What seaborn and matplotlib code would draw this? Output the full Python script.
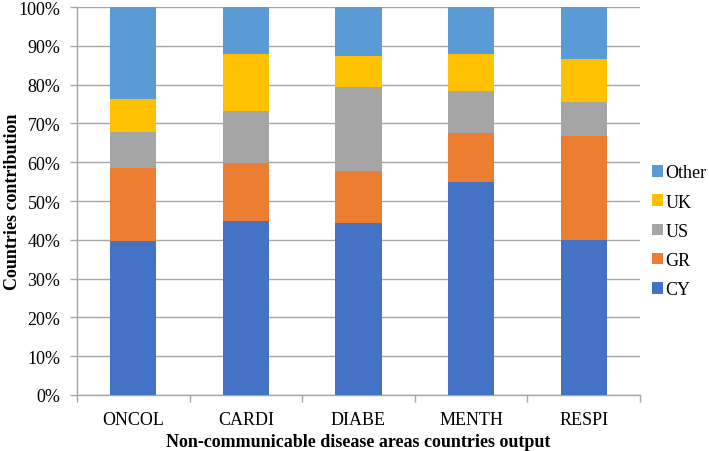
import numpy as np
import pandas as pd
import seaborn as sns
import matplotlib.pyplot as plt
import matplotlib.ticker as ticker

categories = ["ONCOL", "CARDI", "DIABE", "MENTH", "RESPI"]
series = ["CY", "GR", "US", "UK", "Other"]
cy = [39.6, 44.8, 44.3, 55.0, 39.9]
gr = [18.8, 14.9, 13.5, 12.6, 26.9]
us = [9.5, 13.4, 21.5, 10.9, 8.8]
uk = [8.5, 14.8, 8.1, 9.5, 11.1]
other = [23.6, 12.1, 12.6, 12.0, 13.3]

colors = {
    "CY": "#4472C4",
    "GR": "#ED7D31",
    "US": "#A5A5A5",
    "UK": "#FFC000",
    "Other": "#5B9BD5",
}

sns.set_theme(style="white")
plt.rcParams.update(
    {
        "font.family": ["Liberation Serif", "DejaVu Serif"],
        "text.color": "black",
        "axes.labelcolor": "black",
        "xtick.color": "black",
        "ytick.color": "black",
    }
)
fs = 13

df = pd.DataFrame({"cat": categories, "CY": cy, "GR": gr, "US": us, "UK": uk, "Other": other})
df = df.set_index("cat")
cum = df[series].cumsum(axis=1)
cum = cum.div(cum["Other"], axis=0) * 100  # normalise to 100%

fig = plt.figure(figsize=(7.09, 4.52), dpi=100)
ax = fig.add_axes([0.1086, 0.124, 0.794, 0.858])

# draw cumulative totals, tallest first, so each layer overlays the one before
for s in reversed(series):
    sns.barplot(
        x=cum.index,
        y=cum[s].values,
        color=colors[s],
        width=0.41,
        linewidth=0,
        saturation=1,
        label=s,
        ax=ax,
        zorder=3,
    )

ax.set_ylim(0, 100)
ax.set_xlim(-0.5, len(categories) - 0.5)
ax.yaxis.set_major_locator(ticker.MultipleLocator(10))
ax.yaxis.set_major_formatter(ticker.FuncFormatter(lambda v, p: f"{v:.0f}%"))
ax.grid(axis="y", color="#A6A6A6", linewidth=1, zorder=0)

ax.set_xticks(np.arange(len(categories)))
ax.set_xticklabels(categories)
ax.set_xticks(np.arange(-0.5, len(categories)), minor=True)
ax.tick_params(axis="x", which="major", length=0, labelsize=fs, pad=11.5)
ax.tick_params(axis="x", which="minor", length=5, width=1, color="#A6A6A6", direction="out", bottom=True)
ax.tick_params(axis="y", which="major", length=5, width=1, color="#A6A6A6", direction="out", labelsize=fs, left=True, pad=7)

for side in ["top", "right"]:
    ax.spines[side].set_visible(False)
for side in ["left", "bottom"]:
    ax.spines[side].set_color("#A6A6A6")
    ax.spines[side].set_linewidth(1)

ax.set_xlabel("Non-communicable disease areas countries output", fontsize=fs, fontweight="bold", labelpad=4)
ax.set_ylabel("Countries contribution", fontsize=fs, fontweight="bold")
ax.yaxis.set_label_coords(-0.099, 0.5)

leg = ax.legend(
    loc="center left",
    bbox_to_anchor=(1.0215, 0.422),
    frameon=False,
    fontsize=fs,
    handlelength=0.6,
    handleheight=0.6,
    handletextpad=0.15,
    labelspacing=0.68,
    borderaxespad=0,
    borderpad=0,
)

fig.savefig("out.png", dpi=100)
